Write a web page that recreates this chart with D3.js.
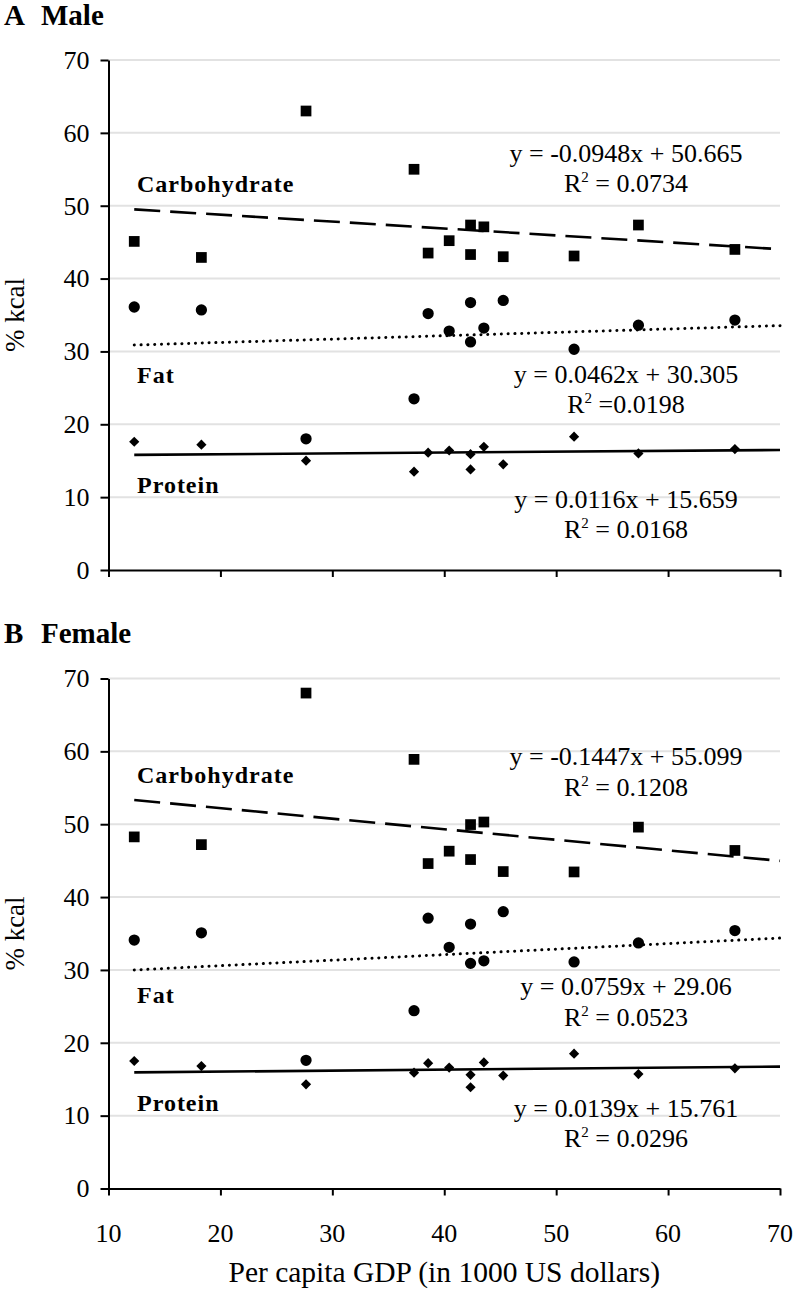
<!DOCTYPE html>
<html>
<head>
<meta charset="utf-8">
<script src="https://cdn.jsdelivr.net/npm/d3@7"></script>
<style>
  html, body { margin: 0; padding: 0; background: #fff; }
  svg { display: block; }
  text { font-family: "Liberation Serif", "Times New Roman", serif; fill: #000; }
</style>
</head>
<body>
<svg id="chart" width="795" height="1291"></svg>
<script>
// ---- data ----
const gdp = [12.3, 18.3, 27.65, 37.3, 38.56, 40.44, 42.35, 42.35, 43.54, 45.27, 51.6, 57.35, 65.97];

const maleCarb = [45.1, 42.9, 63.0, 55.0, 43.5, 45.2, 47.35, 43.3, 47.1, 43.0, 43.1, 47.35, 44.0];
const maleFat  = [36.1, 35.7, 18.0, 23.5, 35.2, 32.8, 36.7, 31.3, 33.2, 37.0, 30.3, 33.6, 34.3];
const maleProt = [17.6, 17.2, 15.0, 13.5, 16.1, 16.4, 15.9, 13.8, 16.9, 14.5, 18.3, 16.0, 16.6];

const femaleCarb = [48.26, 47.2, 68.0, 58.9, 44.6, 46.3, 49.95, 45.15, 50.3, 43.5, 43.45, 49.6, 46.4];
const femaleFat  = [34.1, 35.1, 17.6, 24.4, 37.1, 33.1, 36.3, 30.9, 31.25, 38.0, 31.1, 33.7, 35.4];
const femaleProt = [17.5, 16.8, 14.3, 15.9, 17.2, 16.6, 15.6, 13.9, 17.3, 15.5, 18.5, 15.7, 16.5];

const nutrients = ["Carbohydrate", "Fat", "Protein"];
const maleSlopes = [-0.0948, 0.0462, 0.0116];
const maleIntercepts = [50.665, 30.305, 15.659];
const maleEquations = ["y = -0.0948x + 50.665", "y = 0.0462x + 30.305", "y = 0.0116x + 15.659"];
const maleR2 = [" = 0.0734", " =0.0198", " = 0.0168"];

const femaleSlopes = [-0.1447, 0.0759, 0.0139];
const femaleIntercepts = [55.099, 29.06, 15.761];
const femaleEquations = ["y = -0.1447x + 55.099", "y = 0.0759x + 29.06", "y = 0.0139x + 15.761"];
const femaleR2 = [" = 0.1208", " = 0.0523", " = 0.0296"];

const xTicks = [10, 20, 30, 40, 50, 60, 70];
const yTicks = [0, 10, 20, 30, 40, 50, 60, 70];
const xDomain = [10, 70];
const yDomain = [0, 70];

// ---- drawing ----
const svg = d3.select("#chart");
const x = d3.scaleLinear().domain(xDomain).range([108.5, 780]);

const panels = [
  { letter: "A", title: "Male", top: 60, bottom: 570, titleY: 25,
    series: [maleCarb, maleFat, maleProt], slopes: maleSlopes, intercepts: maleIntercepts,
    eqs: maleEquations, r2: maleR2,
    labelY: [191.7, 382.7, 492.7], eqY: [161.5, 382.5, 507.5] },
  { letter: "B", title: "Female", top: 678.5, bottom: 1188.5, titleY: 643,
    series: [femaleCarb, femaleFat, femaleProt], slopes: femaleSlopes, intercepts: femaleIntercepts,
    eqs: femaleEquations, r2: femaleR2,
    labelY: [783.3, 1002.7, 1110.7], eqY: [765, 995, 1116.7] }
];

const symbols = [
  d3.symbol().type(d3.symbolSquare).size(115)(),
  d3.symbol().type(d3.symbolCircle).size(100)(),
  d3.symbol().type(d3.symbolSquare).size(52)()
];
const symRot = [0, 0, 45];
const lineDash = ["26,10", "0.1,6.7", null];
const lineCap = ["butt", "round", "butt"];
const lineWidth = [2.6, 3, 2.6];

panels.forEach(p => {
  const y = d3.scaleLinear().domain(yDomain).range([p.bottom, p.top]);
  const g = svg.append("g");

  // panel title
  const t = g.append("text").attr("x", 4).attr("y", p.titleY)
    .attr("font-size", 29).attr("font-weight", "bold");
  t.append("tspan").text(p.letter);
  t.append("tspan").attr("x", 41).text(p.title);

  // gridlines
  g.append("g").selectAll("line").data(yTicks.filter(v => v > 0)).join("line")
    .attr("x1", x(xDomain[0])).attr("x2", x(xDomain[1]))
    .attr("y1", d => y(d)).attr("y2", d => y(d))
    .attr("stroke", "#e2e2e2").attr("stroke-width", 2);

  // y axis
  const ya = g.append("g").attr("transform", `translate(${x(xDomain[0])},0)`)
    .call(d3.axisLeft(y).tickValues(yTicks).tickSize(8).tickPadding(11).tickSizeOuter(0));
  ya.select(".domain").attr("stroke", "#000").attr("stroke-width", 2);
  ya.selectAll(".tick line").attr("stroke", "#000").attr("stroke-width", 2);
  ya.selectAll(".tick text").attr("font-family", "Liberation Serif, Times New Roman, serif")
    .attr("font-size", 26).attr("fill", "#000");

  // x axis
  const xa = g.append("g").attr("transform", `translate(0,${p.bottom})`)
    .call(d3.axisBottom(x).tickValues(xTicks).tickSize(7).tickSizeOuter(0)
      .tickFormat(d3.format("d")));
  xa.select(".domain").attr("stroke", "#000").attr("stroke-width", 2);
  xa.selectAll(".tick line").attr("stroke", "#000").attr("stroke-width", 2);
  xa.selectAll(".tick text").remove();

  // y axis title
  g.append("text")
    .attr("transform", `translate(24,${(p.top + p.bottom) / 2}) rotate(-90)`)
    .attr("text-anchor", "middle").attr("font-size", 27).text("% kcal");

  // trend lines
  p.series.forEach((s, i) => {
    const x0 = d3.min(gdp), x1 = xDomain[1];
    g.append("line")
      .attr("x1", x(x0)).attr("x2", x(x1))
      .attr("y1", y(p.slopes[i] * x0 + p.intercepts[i]))
      .attr("y2", y(p.slopes[i] * x1 + p.intercepts[i]))
      .attr("stroke", "#000").attr("stroke-width", lineWidth[i])
      .attr("stroke-dasharray", lineDash[i])
      .attr("stroke-linecap", lineCap[i]);
  });

  // points
  p.series.forEach((s, i) => {
    g.append("g").selectAll("path").data(s).join("path")
      .attr("d", symbols[i])
      .attr("transform", (d, k) => `translate(${x(gdp[k])},${y(d)}) rotate(${symRot[i]})`)
      .attr("fill", "#000");
  });

  // category labels
  nutrients.forEach((n, i) => {
    g.append("text").attr("x", 137).attr("y", p.labelY[i])
      .attr("font-size", 24).attr("font-weight", "bold")
      .attr("letter-spacing", 1).text(n);
  });

  // equations
  p.eqs.forEach((e, i) => {
    g.append("text").attr("x", 626).attr("y", p.eqY[i])
      .attr("text-anchor", "middle").attr("font-size", 26).text(e);
    const r = g.append("text").attr("x", 626).attr("y", p.eqY[i] + 30.5)
      .attr("text-anchor", "middle").attr("font-size", 26);
    r.append("tspan").text("R");
    r.append("tspan").attr("font-size", 15).attr("dy", -10).text("2");
    r.append("tspan").attr("dy", 10).text(p.r2[i]);
  });

  // x tick labels only below panel B
  if (p.letter === "B") {
    g.append("g").selectAll("text").data(xTicks).join("text")
      .attr("x", d => x(d)).attr("y", p.bottom + 53)
      .attr("text-anchor", "middle").attr("font-size", 26)
      .text(d => d);
    g.append("text").attr("x", (x(xDomain[0]) + x(xDomain[1])) / 2).attr("y", 1281.5)
      .attr("text-anchor", "middle").attr("font-size", 29.5)
      .text("Per capita GDP (in 1000 US dollars)");
  }
});
</script>
</body>
</html>
